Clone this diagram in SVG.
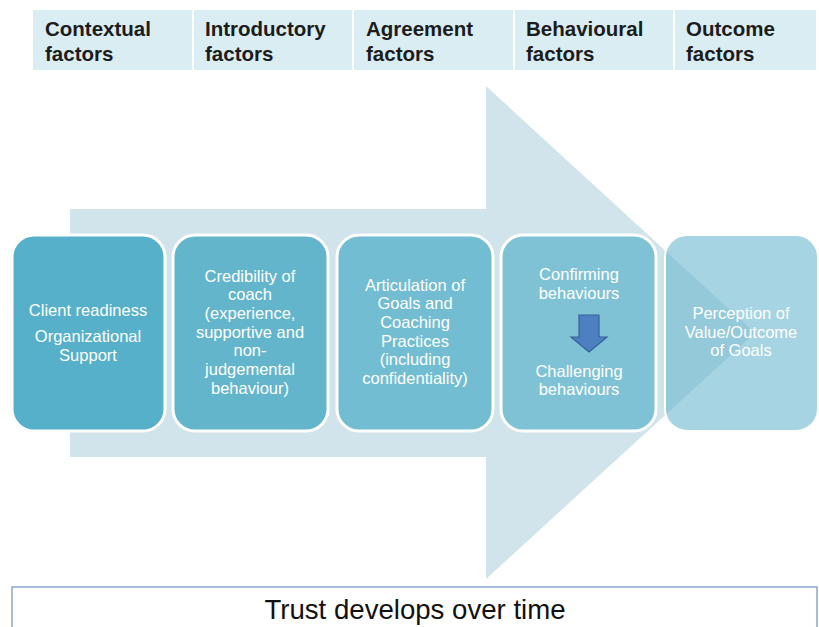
<svg xmlns="http://www.w3.org/2000/svg" width="819" height="627" viewBox="0 0 819 627">
<style>
.hdr{fill:#daedf3}
.ht{font-family:"Liberation Sans",Arial,sans-serif;font-weight:bold;font-size:20.5px;fill:#1c1c1c}
.box{stroke:#ffffff;stroke-width:3}
.bt{font-family:"Liberation Sans",Arial,sans-serif;font-size:16.5px;fill:#ffffff;text-anchor:middle}
.tt{font-family:"Liberation Sans",Arial,sans-serif;font-size:27.6px;fill:#111111;text-anchor:middle}
</style>
<rect width="819" height="627" fill="#ffffff"/>
<g id="header">
<rect class="hdr" x="33" y="10" width="159" height="60"/>
<rect class="hdr" x="194" y="10" width="158" height="60"/>
<rect class="hdr" x="354" y="10" width="159" height="60"/>
<rect class="hdr" x="515" y="10" width="158" height="60"/>
<rect class="hdr" x="675" y="10" width="141" height="60"/>
<text class="ht" x="45" y="36">Contextual</text><text class="ht" x="45" y="61">factors</text>
<text class="ht" x="205" y="36">Introductory</text><text class="ht" x="205" y="61">factors</text>
<text class="ht" x="366" y="36">Agreement</text><text class="ht" x="366" y="61">factors</text>
<text class="ht" x="526" y="36">Behavioural</text><text class="ht" x="526" y="61">factors</text>
<text class="ht" x="686" y="36">Outcome</text><text class="ht" x="686" y="61">factors</text>
</g>
<g id="big-arrow">
<polygon points="70,209 486,209 486,86 755,333 486,579 486,457 70,457" fill="#d1e4eb"/>
</g>
<g id="node1">
<rect class="box" x="12" y="235" width="153" height="196" rx="22" fill="#56b0ca"/>
<text class="bt" x="88" y="316">Client readiness</text>
<text class="bt" x="88" y="342">Organizational</text>
<text class="bt" x="88" y="361">Support</text>
</g>
<g id="node2">
<rect class="box" x="173" y="235" width="155" height="196" rx="22" fill="#63b5cc"/>
<text class="bt" x="250" y="282">Credibility of</text>
<text class="bt" x="250" y="300">coach</text>
<text class="bt" x="250" y="319">(experience,</text>
<text class="bt" x="250" y="338">supportive and</text>
<text class="bt" x="250" y="356">non-</text>
<text class="bt" x="250" y="375">judgemental</text>
<text class="bt" x="250" y="394">behaviour)</text>
</g>
<g id="node3">
<rect class="box" x="337" y="235" width="156" height="196" rx="22" fill="#72bdd1"/>
<text class="bt" x="415" y="291">Articulation of</text>
<text class="bt" x="415" y="309">Goals and</text>
<text class="bt" x="415" y="328">Coaching</text>
<text class="bt" x="415" y="347">Practices</text>
<text class="bt" x="415" y="365">(including</text>
<text class="bt" x="415" y="384">confidentiality)</text>
</g>
<g id="node4">
<rect class="box" x="501" y="235" width="155" height="196" rx="22" fill="#80c2d5"/>
<text class="bt" x="579" y="280">Confirming</text>
<text class="bt" x="579" y="299">behaviours</text>
<polygon points="579,315 599,315 599,337 607,337 589,352 571,337 579,337" fill="#4c80c0" stroke="#36609a" stroke-width="1.2"/>
<text class="bt" x="579" y="377">Challenging</text>
<text class="bt" x="579" y="395">behaviours</text>
</g>
<g id="node5">
<rect x="665" y="235" width="153" height="196" rx="22" fill="#6bb7cf" fill-opacity="0.6" stroke="#ffffff" stroke-width="2"/>
<text class="bt" x="741" y="319">Perception of</text>
<text class="bt" x="741" y="338">Value/Outcome</text>
<text class="bt" x="741" y="356">of Goals</text>
</g>
<g id="footer">
<rect x="12" y="587" width="805" height="60" fill="#ffffff" stroke="#8aa6d0" stroke-width="1.5"/>
<text class="tt" x="415" y="619">Trust develops over time</text>
</g>
</svg>
